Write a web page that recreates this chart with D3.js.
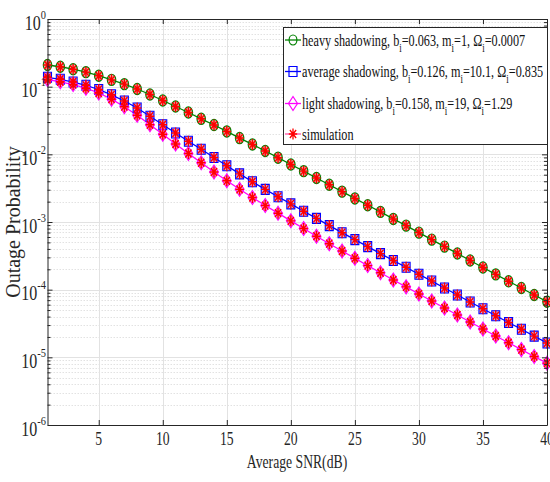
<!DOCTYPE html>
<html lang="en">
<head>
<meta charset="utf-8" />
<title>Outage Probability vs Average SNR</title>
<style>
  body { margin: 0; padding: 0; background: #fff; }
  svg { display: block; font-family: "Liberation Serif", "Times New Roman", serif; }
  .grid-major { stroke: #e2e2e2; stroke-width: 1; }
  .grid-minor { stroke: #e2e2e2; stroke-width: 1; stroke-dasharray: 1.5,1.5; }
</style>
</head>
<body>
<div id="chart"></div>
<script src="https://d3js.org/d3.v7.min.js"></script>
<script>
const snr = [1, 2, 3, 4, 5, 6, 7, 8, 9, 10, 11, 12, 13, 14, 15, 16, 17, 18, 19, 20,
             21, 22, 23, 24, 25, 26, 27, 28, 29, 30, 31, 32, 33, 34, 35, 36, 37, 38, 39, 40];

const heavy = [0.209, 0.197, 0.181, 0.164, 0.145, 0.126, 0.109, 0.0924, 0.0766, 0.0625,
  0.0509, 0.0415, 0.0335, 0.0271, 0.0218, 0.0174, 0.0140, 0.0112, 0.00892, 0.00708,
  0.00564, 0.00447, 0.00355, 0.00281, 0.00223, 0.00177, 0.00141, 0.00111, 0.000885, 0.000697,
  0.000549, 0.000433, 0.000343, 0.000270, 0.000213, 0.000168, 0.000133, 0.000106, 0.0000834, 0.0000664];

const average = [0.1375, 0.1285, 0.117, 0.1047, 0.0908, 0.0758, 0.0614, 0.0484, 0.0366, 0.0274,
  0.0207, 0.0156, 0.0119, 0.00898, 0.00677, 0.00515, 0.00394, 0.00304, 0.00236, 0.00185,
  0.00144, 0.00113, 0.000885, 0.000695, 0.000549, 0.000433, 0.000341, 0.000270, 0.000214, 0.000169,
  0.000134, 0.000106, 0.0000834, 0.0000658, 0.0000522, 0.0000412, 0.0000327, 0.0000260, 0.0000206, 0.0000163];

const light = [0.1276, 0.118, 0.1073, 0.0949, 0.0806, 0.0653, 0.0506, 0.0378, 0.0274, 0.0198,
  0.0142, 0.0103, 0.00750, 0.00548, 0.00406, 0.00304, 0.00230, 0.00175, 0.00135, 0.00104,
  0.000800, 0.000617, 0.000478, 0.000373, 0.000291, 0.000227, 0.000178, 0.000139, 0.000110, 0.0000863,
  0.0000681, 0.0000536, 0.0000423, 0.0000333, 0.0000262, 0.0000207, 0.0000164, 0.0000130, 0.0000103, 0.0000082];

// simulation points fall on the analytic curves
const simulation = [heavy, average, light];

const xTicks = [5, 10, 15, 20, 25, 30, 35, 40];
const yExponents = [0, -1, -2, -3, -4, -5, -6];

const series = [
  { name: 'heavy shadowing', b: '0.063', m: '1', om: '0.0007', values: heavy, color: '#008000', marker: 'circle' },
  { name: 'average shadowing', b: '0.126', m: '10.1', om: '0.835', values: average, color: '#0000ff', marker: 'square' },
  { name: 'light shadowing', b: '0.158', m: '19', om: '1.29', values: light, color: '#ff00ff', marker: 'diamond' }
];

const W = 550, H = 482;
const pLeft = 47.5, pRight = 547, pTop = 19, pBottom = 425;
const SX = 0.72;  // the reference text is horizontally squeezed

const svg = d3.select('#chart').append('svg')
    .attr('width', W)
    .attr('height', H);

const x = d3.scaleLinear().domain([1, 40]).range([pLeft, pRight]);
const y = d3.scaleLog().domain([1e-6, 1]).range([pBottom, pTop]);

// minor values inside each decade
const minor = [];
yExponents.slice(1).forEach(e => {
  [2, 3, 4, 5, 6, 7, 8, 9].forEach(k => minor.push(k * Math.pow(10, e)));
});
const decades = yExponents.map(e => Math.pow(10, e));

// grid
const grid = svg.append('g');
grid.selectAll('.gm').data(minor).enter().append('line')
    .attr('class', 'grid-minor')
    .attr('x1', pLeft).attr('x2', pRight)
    .attr('y1', d => Math.round(y(d)) + 0.5).attr('y2', d => Math.round(y(d)) + 0.5);
grid.selectAll('.gy').data(decades.slice(1, -1)).enter().append('line')
    .attr('class', 'grid-major')
    .attr('x1', pLeft).attr('x2', pRight)
    .attr('y1', d => Math.round(y(d)) + 0.5).attr('y2', d => Math.round(y(d)) + 0.5);
grid.selectAll('.gx').data(xTicks.slice(0, -1)).enter().append('line')
    .attr('class', 'grid-major')
    .attr('y1', pTop).attr('y2', pBottom)
    .attr('x1', d => Math.round(x(d)) + 0.5).attr('x2', d => Math.round(x(d)) + 0.5);

// curves
const line = d3.line().x((d, i) => x(snr[i])).y(d => y(d));
series.forEach(s => {
  svg.append('path')
      .datum(s.values)
      .attr('fill', 'none')
      .attr('stroke', s.color)
      .attr('stroke-width', 1.3)
      .attr('d', line);
});

function markerPath(type, cx, cy) {
  if (type === 'square') {
    return `M${cx - 4},${cy - 5}h8v10h-8Z`;
  }
  if (type === 'diamond') {
    return `M${cx},${cy - 7}L${cx + 4.5},${cy}L${cx},${cy + 7}L${cx - 4.5},${cy}Z`;
  }
  return null;
}

function asteriskPath(cx, cy) {
  const a = 4.2, b = 5.5, c = 3.1, d = 4.0;
  return `M${cx},${cy - b}V${cy + b}M${cx - a},${cy}H${cx + a}` +
         `M${cx - c},${cy - d}L${cx + c},${cy + d}M${cx - c},${cy + d}L${cx + c},${cy - d}`;
}

series.forEach(s => {
  const g = svg.append('g');
  if (s.marker === 'circle') {
    g.selectAll('ellipse').data(s.values).enter().append('ellipse')
        .attr('cx', (d, i) => x(snr[i]))
        .attr('cy', d => y(d))
        .attr('rx', 4.2).attr('ry', 5.6)
        .attr('fill', '#d05040')
        .attr('fill-opacity', 0.45)
        .attr('stroke', s.color)
        .attr('stroke-width', 1.2);
  } else {
    g.selectAll('path').data(s.values).enter().append('path')
        .attr('d', (d, i) => markerPath(s.marker, x(snr[i]), y(d)))
        .attr('fill', s.marker === 'square' ? '#9050e0' : '#ff40a0')
        .attr('fill-opacity', 0.45)
        .attr('stroke', s.color)
        .attr('stroke-width', 1.1);
  }
});

// simulation asterisks
simulation.forEach(vals => {
  svg.append('g').selectAll('path').data(vals).enter().append('path')
      .attr('d', (d, i) => asteriskPath(x(snr[i]), y(d)))
      .attr('fill', 'none')
      .attr('stroke', '#ff0000')
      .attr('stroke-width', 1.4);
});

// axes (ticks inward, box)
const axisColor = '#262626';
const ax = svg.append('g').style('color', axisColor);
ax.append('g').attr('transform', `translate(0,${pBottom})`)
    .call(d3.axisBottom(x).tickValues(xTicks).tickSizeInner(-5).tickSizeOuter(0).tickFormat(''));
ax.append('g').attr('transform', `translate(0,${pTop})`)
    .call(d3.axisTop(x).tickValues(xTicks).tickSizeInner(-5).tickSizeOuter(0).tickFormat(''));
ax.append('g').attr('transform', `translate(${pLeft},0)`)
    .call(d3.axisLeft(y).tickValues(decades).tickSizeInner(-5).tickSizeOuter(0).tickFormat(''));
ax.append('g').attr('transform', `translate(${pRight},0)`)
    .call(d3.axisRight(y).tickValues(decades).tickSizeInner(-5).tickSizeOuter(0).tickFormat(''));
ax.append('g').attr('transform', `translate(${pLeft},0)`)
    .call(d3.axisLeft(y).tickValues(minor).tickSizeInner(-3).tickSizeOuter(0).tickFormat(''))
    .select('.domain').remove();
ax.append('g').attr('transform', `translate(${pRight},0)`)
    .call(d3.axisRight(y).tickValues(minor).tickSizeInner(-3).tickSizeOuter(0).tickFormat(''))
    .select('.domain').remove();

// x tick labels
svg.append('g').selectAll('text').data(xTicks).enter().append('text')
    .attr('transform', d => `translate(${x(d)},445) scale(${SX},1)`)
    .attr('text-anchor', 'middle')
    .attr('font-size', 19)
    .attr('fill', axisColor)
    .text(d => d);

// y tick labels 10^k
const yl = svg.append('g').selectAll('text').data(yExponents).enter().append('text')
    .attr('transform', d => `translate(46,${y(Math.pow(10, d)) + 10.5}) scale(0.8,1)`)
    .attr('text-anchor', 'end')
    .attr('fill', axisColor);
yl.append('tspan').attr('font-size', 20).text('10');
yl.append('tspan').attr('font-size', 13).attr('dy', -11).text(d => d === 0 ? '0' : '-' + Math.abs(d));

// axis titles
svg.append('text')
    .attr('transform', `translate(297,468) scale(${SX},1)`)
    .attr('text-anchor', 'middle')
    .attr('font-size', 19)
    .attr('fill', axisColor)
    .text('Average SNR(dB)');

svg.append('text')
    .attr('transform', 'translate(20,222) rotate(-90)')
    .attr('text-anchor', 'middle')
    .attr('font-size', 20)
    .attr('fill', axisColor)
    .text('Outage Probability');

// legend
const lg = svg.append('g');
lg.append('rect')
    .attr('x', 283.5).attr('y', 27.5)
    .attr('width', 264).attr('height', 117)
    .attr('fill', '#fff')
    .attr('stroke', axisColor)
    .attr('stroke-width', 1);

const rowY = [40, 71.5, 103.5, 134];

series.forEach((s, i) => {
  const cy = rowY[i];
  lg.append('line').attr('x1', 285).attr('x2', 301).attr('y1', cy).attr('y2', cy)
      .attr('stroke', s.color).attr('stroke-width', 1.3);
  if (s.marker === 'circle') {
    lg.append('ellipse').attr('cx', 293).attr('cy', cy).attr('rx', 3.9).attr('ry', 5)
        .attr('fill', 'none').attr('stroke', s.color).attr('stroke-width', 1.2);
  } else {
    lg.append('path').attr('d', markerPath(s.marker, 293, cy))
        .attr('fill', 'none').attr('stroke', s.color).attr('stroke-width', 1.2);
  }
  const t = lg.append('text')
      .attr('transform', `translate(302,${cy + 5.5}) scale(0.74,1)`)
      .attr('font-size', 16.5)
      .attr('fill', '#111');
  const parts = [[s.name + ', b', 0], ['i', 1], ['=' + s.b + ', m', 0], ['i', 1],
                 ['=' + s.m + ', \u03A9', 0], ['i', 1], ['=' + s.om, 0]];
  let shift = 0;
  parts.forEach(p => {
    const sub = p[1] === 1;
    const dy = sub ? 6 - shift : -shift;
    shift = sub ? 6 : 0;
    t.append('tspan')
        .attr('font-size', sub ? 12 : 16.5)
        .attr('dy', dy)
        .text(p[0]);
  });
});

// simulation entry
lg.append('line').attr('x1', 285).attr('x2', 301).attr('y1', rowY[3]).attr('y2', rowY[3])
    .attr('stroke', '#ff3399').attr('stroke-width', 1.1);
lg.append('path').attr('d', asteriskPath(293, rowY[3]))
    .attr('fill', 'none').attr('stroke', '#ff0000').attr('stroke-width', 1.3);
lg.append('text')
    .attr('transform', `translate(302,${rowY[3] + 5.5}) scale(0.74,1)`)
    .attr('font-size', 16.5)
    .attr('fill', '#111')
    .text('simulation');
</script>
</body>
</html>
